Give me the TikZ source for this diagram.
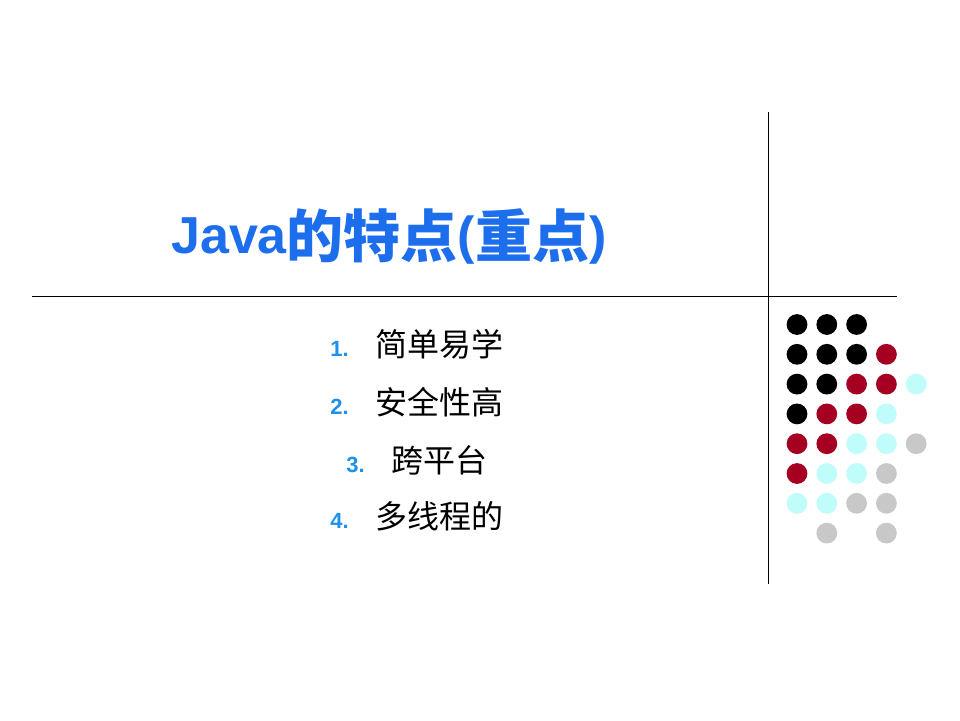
\documentclass[tikz,border=0pt]{standalone}
\usepackage{fontspec}
\setmainfont{Liberation Sans}
\newfontfamily\cjk{Noto Sans CJK SC}
\definecolor{titleblue}{RGB}{28,110,236}
\definecolor{numblue}{RGB}{30,145,232}
\definecolor{dk}{RGB}{0,0,0}
\definecolor{rd}{RGB}{165,0,33}
\definecolor{cy}{RGB}{192,252,250}
\definecolor{gy}{RGB}{200,200,200}
\tikzset{
  itemline/.style={anchor=base, inner sep=0pt, font=\cjk\fontsize{32}{34}\selectfont},
  rule/.style={draw=black, line width=1pt}
}
\newcommand{\numlab}[1]{{\rmfamily\bfseries\fontsize{22}{24}\selectfont\color{numblue}#1}\hspace{27pt}}
\begin{document}
\begin{tikzpicture}[x=1pt,y=-1pt]
\useasboundingbox[fill=white] (0,0) rectangle (960,720);
\draw[rule] (32,296) -- (897,296);
\draw[rule] (768,112) -- (768,584);
\node[anchor=base west, inner sep=0pt, text=titleblue] (title) at (171,253)
  {\bfseries\fontsize{52}{60}\selectfont Java\raisebox{-4pt}{\cjk\fontsize{57}{60}\selectfont 的特点}(\raisebox{-4pt}{\cjk\fontsize{57}{60}\selectfont 重点})};
\node[itemline] (i1) at (417,356) {\numlab{1.}简单易学};
\node[itemline] (i2) at (417,414) {\numlab{2.}安全性高};
\node[itemline] (i3) at (417,472) {\numlab{3.}跨平台};
\node[itemline] (i4) at (417,528) {\numlab{4.}多线程的};
\foreach \c/\r/\col in {
  0/0/dk,1/0/dk,2/0/dk,
  0/1/dk,1/1/dk,2/1/dk,3/1/rd,
  0/2/dk,1/2/dk,2/2/rd,3/2/rd,4/2/cy,
  0/3/dk,1/3/rd,2/3/rd,3/3/cy,
  0/4/rd,1/4/rd,2/4/cy,3/4/cy,4/4/gy,
  0/5/rd,1/5/cy,2/5/cy,3/5/gy,
  0/6/cy,1/6/cy,2/6/gy,3/6/gy,
  1/7/gy,3/7/gy}
  \fill[\col] ({797+29.8*\c},{324.5+29.8*\r}) circle (10.4);
\end{tikzpicture}
\end{document}
